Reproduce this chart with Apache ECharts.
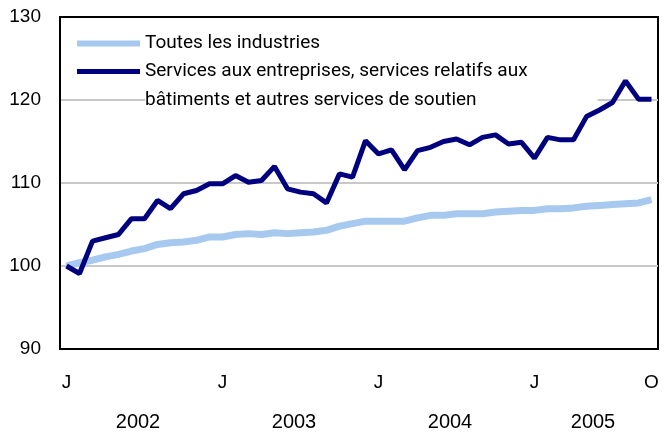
<!DOCTYPE html>
<html>
<head>
<meta charset="utf-8">
<script src="https://cdn.jsdelivr.net/npm/echarts@6/dist/echarts.min.js"></script>
<style>
  html, body { margin: 0; padding: 0; background: #fff; }
  #main { width: 665px; height: 435px; }
</style>
</head>
<body>
<div id="main"></div>
<script>
var myChart = echarts.init(document.getElementById('main'));

// month initials and years shown under the axis
const monthLabels = ['J', 'F', 'M', 'A', 'M', 'J', 'J', 'A', 'S', 'O', 'N', 'D'];
const years = ['2002', '2003', '2004', '2005'];
const monthsPerYear = [12, 12, 12, 10];

// indices, janvier 2002 = 100
const toutesIndustries = [100.0, 100.4, 100.7, 101.1, 101.4, 101.8, 102.1, 102.6, 102.8, 102.9, 103.1, 103.5,
    103.5, 103.8, 103.9, 103.8, 104.0, 103.9, 104.0, 104.1, 104.3, 104.8, 105.1, 105.4,
    105.4, 105.4, 105.4, 105.8, 106.1, 106.1, 106.3, 106.3, 106.3, 106.5, 106.6, 106.7,
    106.7, 106.9, 106.9, 107.0, 107.2, 107.3, 107.4, 107.5, 107.6, 108.0];
const servicesEntreprises = [100.0, 99.1, 103.0, 103.4, 103.8, 105.7, 105.7, 107.9, 106.9, 108.7, 109.1, 109.9,
    109.9, 110.9, 110.1, 110.3, 112.0, 109.3, 108.9, 108.7, 107.6, 111.1, 110.7, 115.1,
    113.5, 114.0, 111.6, 113.9, 114.3, 115.0, 115.3, 114.6, 115.5, 115.8, 114.7, 114.9,
    113.0, 115.5, 115.2, 115.2, 118.0, 118.8, 119.7, 122.3, 120.1, 120.1];

const nameA = 'Toutes les industries';
const nameB = 'Services aux entreprises, services relatifs aux\nbâtiments et autres services de soutien';

// categories built from the month/year arrays
let categories = [];
let yearCenters = [];
let start = 0;
years.forEach((y, k) => {
    for (let m = 0; m < monthsPerYear[k]; m++) {
        categories.push(monthLabels[m] + ' ' + y);
    }
    yearCenters.push(start + monthsPerYear[k] / 2);
    start += monthsPerYear[k];
});
const lastIndex = categories.length - 1;

const font = 'Liberation Sans, Arial, sans-serif';
const legendFont = 'Roboto, Liberation Sans, sans-serif';

var option = {
    animation: false,
    backgroundColor: '#fff',
    grid: {
        left: 60, right: 7, top: 17, bottom: 86,
        show: true, borderColor: '#000', borderWidth: 2
    },
    legend: [
        {
            data: [nameA],
            left: 77, top: 29, padding: 0,
            icon: 'rect', itemWidth: 63, itemHeight: 6,
            z: 5,
            textStyle: { fontFamily: legendFont, fontSize: 19, color: '#000', lineHeight: 29 }
        },
        {
            // blank first line keeps the symbol beside the first text line
            data: [nameB],
            formatter: function (name) { return '\n' + name; },
            left: 77, top: 28, padding: 0,
            icon: 'rect', itemWidth: 63, itemHeight: 5,
            z: 3,
            textStyle: {
                fontFamily: legendFont, fontSize: 19, color: '#000', lineHeight: 29,
                backgroundColor: '#fff', padding: [0, 70, 0, 0]
            }
        }
    ],
    xAxis: [
        {
            type: 'category',
            data: categories,
            boundaryGap: true,
            axisLine: { lineStyle: { color: '#000', width: 2 } },
            axisTick: { inside: true, length: 5, interval: 0, lineStyle: { color: '#000', width: 1.5 } },
            axisLabel: {
                interval: function (index) { return index % 12 === 0 || index === lastIndex; },
                formatter: function (v) { return v.split(' ')[0]; },
                fontFamily: font, fontSize: 19, color: '#000', margin: 24
            },
            splitLine: { show: false }
        },
        {
            type: 'value',
            position: 'bottom',
            min: 0, max: categories.length,
            axisLine: { show: false },
            axisTick: { show: false },
            splitLine: { show: false },
            axisLabel: {
                customValues: yearCenters,
                formatter: function (v) { return years[yearCenters.indexOf(v)] || ''; },
                fontFamily: font, fontSize: 20, color: '#000', margin: 63
            }
        }
    ],
    yAxis: {
        type: 'value',
        min: 90, max: 130, interval: 10,
        axisLine: { show: true, lineStyle: { color: '#000', width: 2 } },
        axisTick: { show: false },
        axisLabel: { fontFamily: font, fontSize: 19, color: '#000', margin: 19 },
        splitLine: {
            show: true,
            lineStyle: { color: ['#000', '#c8c8c8', '#c8c8c8', '#c8c8c8', '#000'], width: 2 }
        }
    },
    series: [
        {
            name: nameA,
            type: 'line',
            data: toutesIndustries,
            showSymbol: false,
            color: '#a7c9ef',
            lineStyle: { color: '#a7c9ef', width: 7 },
            itemStyle: { color: '#a7c9ef' },
            z: 2
        },
        {
            name: nameB,
            type: 'line',
            data: servicesEntreprises,
            showSymbol: false,
            color: '#00007f',
            lineStyle: { color: '#00007f', width: 5 },
            itemStyle: { color: '#00007f' },
            z: 3
        }
    ]
};
myChart.setOption(option);
</script>
</body>
</html>
